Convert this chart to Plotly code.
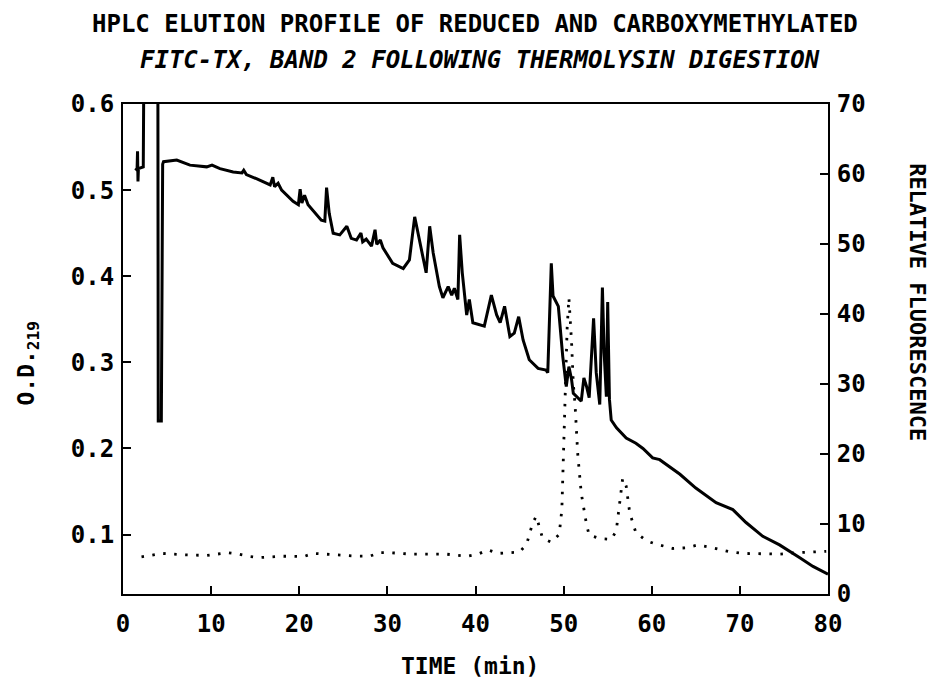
import plotly.graph_objects as go

# Absorbance (O.D. 219) trace, left axis
abs_time = [1.4, 1.6, 1.65, 1.7, 1.75, 2.3, 2.4, 3.95, 4.0, 4.35, 4.5,
            4.6, 6.1, 7.6, 9.5, 10.1, 11.0, 12.5, 13.5, 13.7, 14.0, 15.2, 16.7, 17.0, 17.2,
            17.6, 18.0, 19.3, 19.9, 20.1, 20.3, 20.6, 21.0, 22.5, 22.9, 23.1, 23.4, 23.85,
            24.6, 25.4, 25.9, 26.5, 27.0, 27.2, 27.6, 28.2, 28.6, 28.8, 29.2, 29.5, 30.6,
            31.8, 32.5, 33.1, 33.9, 34.4, 34.8, 35.2, 35.9, 36.3, 36.9, 37.3, 37.6, 38.0,
            38.2, 38.5, 39.0, 39.3, 39.7, 41.0, 41.8, 42.4, 42.8, 43.3, 43.9, 44.4, 44.9,
            45.4, 46.1, 47.1, 48.0, 48.2, 48.6, 48.8, 49.4, 49.9, 50.3, 50.6, 50.9, 51.1,
            52.0, 52.3, 52.6, 52.9, 53.4, 53.7, 54.1, 54.4, 54.6, 54.85, 55.0, 55.2, 55.4,
            56.0, 57.1, 58.2, 59.0, 60.1, 60.9, 63.2, 65.0, 67.3, 69.2, 70.7, 72.6, 74.5,
            76.8, 78.3, 80.0]
abs_od = [0.523, 0.525, 0.545, 0.51, 0.525, 0.527, 0.70, 0.70, 0.232, 0.232, 0.53,
          0.533, 0.535, 0.529, 0.527, 0.529, 0.525, 0.521, 0.520, 0.523, 0.518, 0.513, 0.506, 0.515, 0.504,
          0.508, 0.500, 0.487, 0.483, 0.501, 0.485, 0.494, 0.483, 0.465, 0.464, 0.503, 0.473, 0.450,
          0.448, 0.458, 0.444, 0.442, 0.450, 0.440, 0.443, 0.435, 0.454, 0.437, 0.442, 0.433, 0.415,
          0.409, 0.419, 0.469, 0.431, 0.404, 0.458, 0.427, 0.388, 0.375, 0.388, 0.378, 0.386, 0.373,
          0.448, 0.404, 0.355, 0.373, 0.346, 0.342, 0.378, 0.355, 0.346, 0.365, 0.330, 0.334, 0.353,
          0.326, 0.303, 0.293, 0.291, 0.288, 0.415, 0.377, 0.365, 0.307, 0.272, 0.295, 0.280, 0.264,
          0.255, 0.282, 0.272, 0.259, 0.351, 0.288, 0.251, 0.387, 0.311, 0.260, 0.370, 0.257, 0.233,
          0.224, 0.212, 0.206, 0.200, 0.189, 0.187, 0.170, 0.154, 0.137, 0.129, 0.114, 0.098, 0.088,
          0.073, 0.063, 0.054]

# Relative fluorescence trace, right axis
fl_time = [2.1, 4.4, 6.8, 9.5, 11.9, 13.1, 14.4, 15.5, 18.0, 20.5, 21.6, 24.1, 26.7, 28.0,
           29.1, 30.3, 32.7, 36.6, 38.0, 39.1, 40.3, 41.4, 42.6, 45.0, 45.8, 46.5, 46.9, 47.3,
           47.6, 48.6, 49.5, 49.8, 50.0, 50.2, 50.4, 50.6, 50.9, 51.1, 51.3, 51.6, 52.0, 52.6,
           52.9, 54.2, 55.4, 55.97, 56.3, 56.7, 57.1, 57.5, 58.2, 59.4, 60.3, 62.4, 63.9, 65.2,
           66.9, 68.8, 70.3, 72.6, 74.5, 76.4, 78.3, 79.8]
fl_val = [5.3, 5.8, 5.6, 5.5, 5.9, 5.7, 5.35, 5.2, 5.4, 5.35, 5.8, 5.6, 5.4, 5.4,
          5.9, 5.9, 5.7, 5.7, 5.5, 5.4, 5.7, 6.3, 5.8, 6.0, 7.1, 10.2, 11.1, 9.5,
          8.0, 7.4, 8.5, 12.1, 20.0, 30.0, 38.0, 42.3, 36.0, 30.0, 27.0, 20.0, 14.4, 9.9,
          8.4, 7.9, 7.8, 9.0, 12.1, 16.5, 15.4, 11.6, 8.75, 7.6, 7.2, 6.5, 6.6, 7.0,
          6.6, 6.05, 5.8, 5.7, 5.7, 5.9, 6.0, 6.1]

x_ticks = [0, 10, 20, 30, 40, 50, 60, 70, 80]
left_ticks = [0.1, 0.2, 0.3, 0.4, 0.5, 0.6]
right_ticks = [0, 10, 20, 30, 40, 50, 60, 70]

FONT = "DejaVu Sans Mono"

fig = go.Figure()
fig.add_trace(go.Scatter(x=abs_time, y=abs_od, mode="lines",
                         line=dict(color="black", width=3), yaxis="y", showlegend=False))
fig.add_trace(go.Scatter(x=fl_time, y=fl_val, mode="lines",
                         line=dict(color="black", width=2.8, dash="2.5px,8.5px"),
                         yaxis="y2", showlegend=False))

axis_common = dict(showgrid=False, zeroline=False, showline=True, linecolor="black",
                   linewidth=2, ticks="inside", ticklen=8, tickwidth=2, tickcolor="black",
                   tickfont=dict(family=FONT, size=24, color="black", weight="bold"))

fig.update_layout(
    width=935, height=685,
    margin=dict(l=123, r=107, t=104, b=91),
    paper_bgcolor="white", plot_bgcolor="white",
    xaxis=dict(range=[0, 80], tickvals=x_ticks, ticktext=[str(v) for v in x_ticks],
               mirror=True, ticklabelstandoff=7, **axis_common),
    yaxis=dict(range=[0.031, 0.6], tickvals=left_ticks,
               ticktext=[f"{v:.1f}" for v in left_ticks], ticklabelstandoff=2, **axis_common),
    yaxis2=dict(range=[0, 70], tickvals=right_ticks, ticktext=[str(v) for v in right_ticks],
                overlaying="y", side="right", ticklabelstandoff=2, **axis_common),
    annotations=[
        dict(text="HPLC ELUTION PROFILE OF REDUCED AND CARBOXYMETHYLATED",
             x=0.499, y=1.163, xref="paper", yref="paper", showarrow=False,
             xanchor="center", yanchor="middle",
             font=dict(family=FONT, size=24, color="black", weight="bold")),
        dict(text="<i>FITC-TX, BAND 2 FOLLOWING THERMOLYSIN DIGESTION</i>",
             x=0.506, y=1.090, xref="paper", yref="paper", showarrow=False,
             xanchor="center", yanchor="middle",
             font=dict(family=FONT, size=24, color="black", weight="bold")),
        dict(text="TIME (min)", x=0.492, y=-0.147, xref="paper", yref="paper", showarrow=False,
             xanchor="center", yanchor="middle",
             font=dict(family=FONT, size=23, color="black", weight="bold")),
        dict(text="O.D.<sub>219</sub>", x=-0.135, y=0.47, xref="paper", yref="paper",
             showarrow=False, textangle=-90, xanchor="center", yanchor="middle",
             font=dict(family=FONT, size=23, color="black", weight="bold")),
        dict(text="RELATIVE FLUORESCENCE", x=1.126, y=0.596, xref="paper", yref="paper",
             showarrow=False, textangle=90, xanchor="center", yanchor="middle",
             font=dict(family=FONT, size=22, color="black", weight="bold")),
    ],
)

fig.write_html("out.html")
